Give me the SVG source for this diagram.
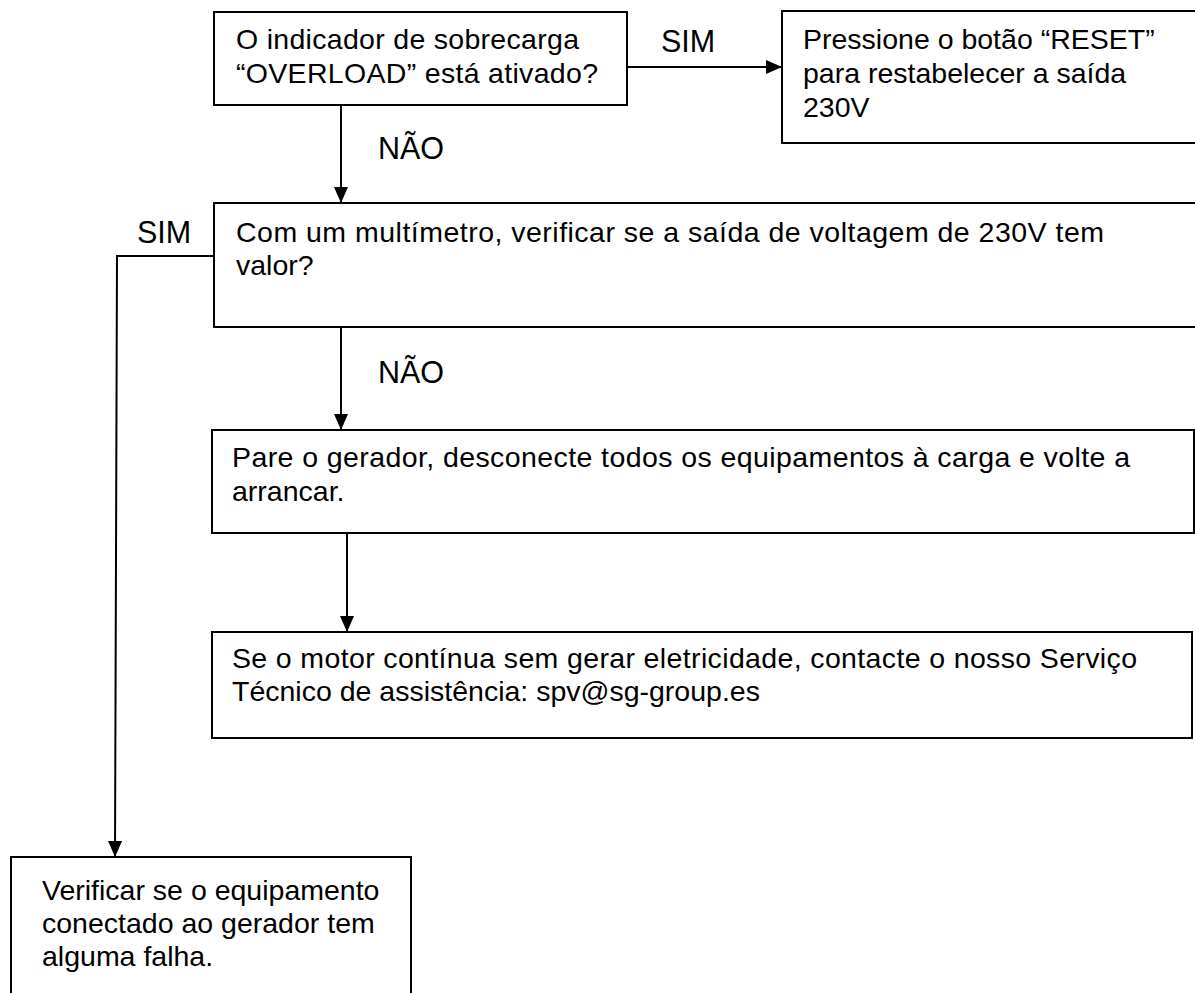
<svg xmlns="http://www.w3.org/2000/svg" width="1195" height="993" viewBox="0 0 1195 993">
<style>
.box{fill:#fff;stroke:#000;stroke-width:2}
.t{font-family:"Liberation Sans",Arial,sans-serif;font-size:28.5px;fill:#000}
.lbl{font-family:"Liberation Sans",Arial,sans-serif;font-size:30.5px;fill:#000}
.c{fill:none;stroke:#000;stroke-width:2}
</style>
<defs>
<marker id="ah" markerUnits="userSpaceOnUse" markerWidth="16" markerHeight="14" refX="16" refY="7" orient="auto">
<path d="M0,0 L16,7 L0,14 Z" fill="#000"/>
</marker>
</defs>
<rect width="1195" height="993" fill="#fff"/>
<g id="connectors">
<line class="c" x1="627" y1="67" x2="782" y2="67" marker-end="url(#ah)"/>
<line class="c" x1="341" y1="105" x2="341" y2="203" marker-end="url(#ah)"/>
<line class="c" x1="341" y1="327" x2="341" y2="430" marker-end="url(#ah)"/>
<line class="c" x1="347" y1="533" x2="347" y2="632" marker-end="url(#ah)"/>
<polyline class="c" points="214,256 117,256 115,857" marker-end="url(#ah)"/>
<text class="lbl" x="661" y="52">SIM</text>
<text class="lbl" x="378" y="159">NÃO</text>
<text class="lbl" x="378" y="383">NÃO</text>
<text class="lbl" x="137" y="243">SIM</text>
</g>
<g id="n1">
<rect class="box" x="214" y="12" width="413" height="93"/>
<text class="t" x="236" y="49" textLength="343" lengthAdjust="spacing">O indicador de sobrecarga</text>
<text class="t" x="236" y="83" textLength="362" lengthAdjust="spacing">“OVERLOAD” está ativado?</text>
</g>
<g id="n2">
<rect class="box" x="782" y="11" width="430" height="132"/>
<text class="t" x="803" y="49">Pressione o botão “RESET”</text>
<text class="t" x="803" y="83">para restabelecer a saída</text>
<text class="t" x="803" y="117">230V</text>
</g>
<g id="n3">
<rect class="box" x="214" y="203" width="1000" height="124"/>
<text class="t" x="236" y="242" textLength="868" lengthAdjust="spacing">Com um multímetro, verificar se a saída de voltagem de 230V tem</text>
<text class="t" x="236" y="275">valor?</text>
</g>
<g id="n4">
<rect class="box" x="212" y="430" width="982" height="103"/>
<text class="t" x="232" y="467" textLength="898" lengthAdjust="spacing">Pare o gerador, desconecte todos os equipamentos à carga e volte a</text>
<text class="t" x="232" y="501">arrancar.</text>
</g>
<g id="n5">
<rect class="box" x="212" y="632" width="980" height="106"/>
<text class="t" x="232" y="668" textLength="905" lengthAdjust="spacing">Se o motor contínua sem gerar eletricidade, contacte o nosso Serviço</text>
<text class="t" x="232" y="701">Técnico de assistência: spv@sg-group.es</text>
</g>
<g id="n6">
<rect class="box" x="11" y="857" width="400" height="160"/>
<text class="t" x="42" y="900">Verificar se o equipamento</text>
<text class="t" x="42" y="933">conectado ao gerador tem</text>
<text class="t" x="42" y="966">alguma falha.</text>
</g>
</svg>
